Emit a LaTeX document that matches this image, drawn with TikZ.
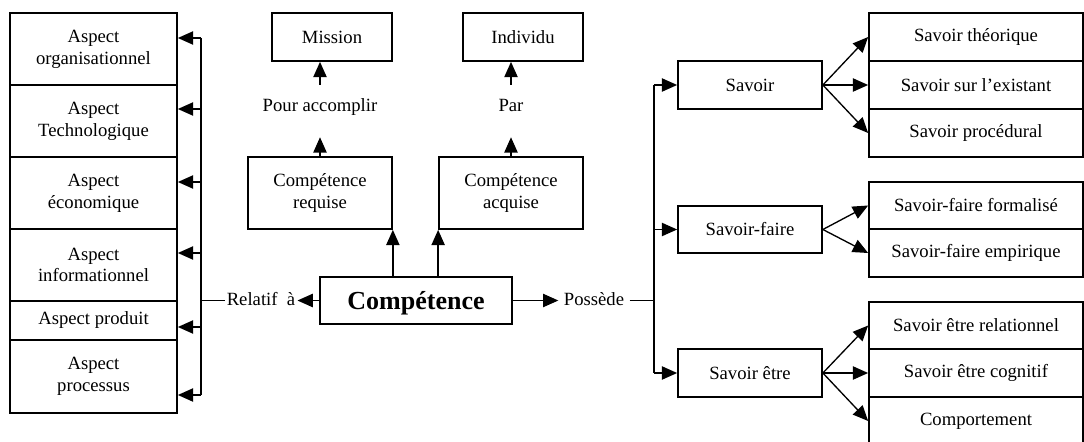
\documentclass[tikz,border=0pt]{standalone}
\usepackage{fontspec}
\setmainfont{Liberation Serif}
\usetikzlibrary{arrows.meta}
\newcommand\bx[6][]{\node[box, #1, minimum width={(#4-#2)*0.75pt}, minimum height={(#5-#3)*0.75pt}] (#6) at ({(#2+#4)/2},{(#3+#5)/2})}
\begin{document}
\begin{tikzpicture}[x=0.75pt,y=-0.75pt,
  box/.style={draw, line width=1.3pt, inner sep=0pt, align=center, font=\fontsize{14}{16.3}\selectfont},
  lbl/.style={inner xsep=1.5pt, inner ysep=0pt, font=\fontsize{14}{16.3}\selectfont},
  arr/.style={line width=1pt, -{Triangle[length=11.5pt,width=10pt]}},
  ln/.style={line width=1pt}]
\useasboundingbox (0,0) rectangle (1084,442);
\clip (0,0) rectangle (1084,442);

% left column
\bx{10}{13}{177}{85}{a1} {Aspect\\organisationnel};
\bx{10}{85}{177}{157}{a2} {Aspect\\Technologique};
\bx{10}{157}{177}{229}{a3} {Aspect\\économique};
\bx{10}{229}{177}{301}{a4} {Aspect\\informationnel};
\bx{10}{301}{177}{340}{a5} {Aspect produit};
\bx{10}{340}{177}{413}{a6} {Aspect\\processus};

% middle
\bx{272}{13}{392}{61}{mis} {Mission};
\bx{463}{13}{583}{61}{ind} {Individu};
\bx{248}{157}{392}{229}{req} {Compétence\\requise};
\bx{439}{157}{583}{229}{acq} {Compétence\\acquise};
\bx[font=\fontsize{19.5}{22}\selectfont\bfseries, text depth=0pt]{320}{277}{512}{324}{comp} {Compétence};

\node[lbl, text height=20.25pt, text depth=18.75pt, anchor=base] (pour) at (320,112) {Pour accomplir};
\node[lbl, text height=20.25pt, text depth=18.75pt, anchor=base] (par) at (511,112) {Par};

\node[lbl, anchor=base] (rel) at (261,305) {Relatif~~à};
\node[lbl, inner xsep=4pt, anchor=base] (pos) at (594,305) {Possède};

% savoir
\bx{678}{61}{822}{109}{sav} {Savoir};
\bx{678}{206}{822}{253}{sf} {Savoir-faire};
\bx{678}{349}{822}{397}{se} {Savoir être};

\bx{869}{13}{1083}{61}{st} {Savoir théorique};
\bx{869}{61}{1083}{109}{sx} {Savoir sur l’existant};
\bx{869}{109}{1083}{157}{sp} {Savoir procédural};
\bx{869}{182}{1083}{229}{sff} {Savoir-faire formalisé};
\bx{869}{229}{1083}{277}{sfe} {Savoir-faire empirique};
\bx{869}{302}{1083}{349}{ser} {Savoir être relationnel};
\bx{869}{349}{1083}{397}{sec} {Savoir être cognitif};
\bx{869}{397}{1083}{445}{cmp} {Comportement};

% middle connectors
\draw[arr] (req.north) -- (pour.south);
\draw[arr] (pour.north) -- (pour.north |- mis.south);
\draw[arr] (acq.north) -- (par.south);
\draw[arr] (par.north) -- (par.north |- ind.south);
\draw[arr] (comp.north -| req.south east) -- (req.south east);
\draw[arr] (comp.north -| acq.south west) -- (acq.south west);

% left bus
\coordinate (lb) at (201,300.5);
\coordinate (l1) at (201,38);
\coordinate (l2) at (201,109);
\coordinate (l3) at (201,182);
\coordinate (l4) at (201,253);
\coordinate (l5) at (201,327);
\coordinate (l6) at (201,395);
\draw[arr] (comp.west) -- (comp.west -| rel.east);
\draw[ln] (comp.west -| rel.west) -- (lb);
\draw[ln] (l1) -- (l6);
\foreach \i in {1,...,6} {\draw[arr] (l\i) -- (l\i -| a\i.east);}

% right bus
\coordinate (rb) at (654,300.5);
\draw[arr] (comp.east) -- (comp.east -| pos.west);
\draw[ln] (comp.east -| pos.east) -- (rb);
\draw[ln] (sav.west -| rb) -- (se.west -| rb);
\draw[arr] (sav.west -| rb) -- (sav.west);
\draw[arr] (sf.west -| rb) -- (sf.west);
\draw[arr] (se.west -| rb) -- (se.west);

% savoir fans
\draw[arr] (sav.east) -- (st.west);
\draw[arr] (sav.east) -- (sx.west);
\draw[arr] (sav.east) -- (sp.west);
\draw[arr] (sf.east) -- (sff.west);
\draw[arr] (sf.east) -- (sfe.west);
\draw[arr] (se.east) -- (ser.west);
\draw[arr] (se.east) -- (sec.west);
\draw[arr] (se.east) -- (cmp.west);
\end{tikzpicture}
\end{document}
